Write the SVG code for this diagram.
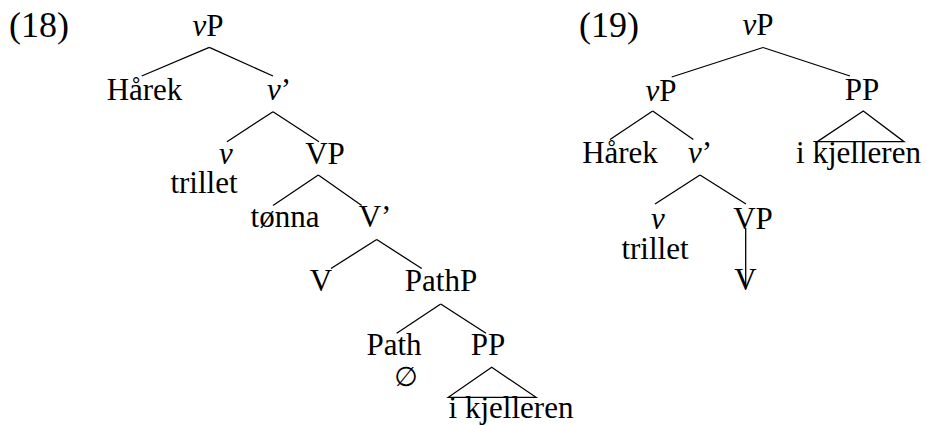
<svg xmlns="http://www.w3.org/2000/svg" width="927" height="425" viewBox="0 0 927 425">
<style>
text{font-family:"Liberation Serif","Times New Roman",serif;font-size:31px;fill:#000;text-anchor:middle}
.ex{text-anchor:start;font-size:36px}
.it{font-style:italic}
.sym{font-family:"DejaVu Sans","Liberation Serif",sans-serif;font-size:27px}
line,polygon{stroke:#000;stroke-width:1.3;fill:none}
</style>
<rect width="927" height="425" fill="#fff"/>
<g id="ex18"><text class="ex" x="9" y="37">(18)</text></g>
<g id="t18-vP"><text x="208" y="36"><tspan class="it">v</tspan>P</text></g>
<g id="t18-harek"><text x="144.5" y="100">Hårek</text></g>
<g id="t18-vbar"><text x="279" y="100"><tspan class="it">v</tspan>’</text></g>
<g id="t18-v"><text class="it" x="226" y="164">v</text><text x="204" y="193">trillet</text></g>
<g id="t18-VP"><text x="325" y="164">VP</text></g>
<g id="t18-tonna"><text x="285" y="227">tønna</text></g>
<g id="t18-Vbar"><text x="375" y="227">V’</text></g>
<g id="t18-V"><text x="321" y="290.7">V</text></g>
<g id="t18-PathP"><text x="441" y="290.7">PathP</text></g>
<g id="t18-Path"><text x="394" y="355">Path</text><text class="sym" x="406" y="386">∅</text></g>
<g id="t18-PP"><text x="488" y="355">PP</text></g>
<g id="t18-ikj"><text x="511" y="418">i kjelleren</text></g>

<g id="ex19"><text class="ex" x="579" y="37">(19)</text></g>
<g id="t19-vP"><text x="758" y="35"><tspan class="it">v</tspan>P</text></g>
<g id="t19-vP2"><text x="661" y="100.5"><tspan class="it">v</tspan>P</text></g>
<g id="t19-PP"><text x="862" y="100">PP</text></g>
<g id="t19-harek"><text x="620" y="163.3">Hårek</text></g>
<g id="t19-vbar"><text x="700" y="163.3"><tspan class="it">v</tspan>’</text></g>
<g id="t19-ikj"><text x="858.5" y="163.3">i kjelleren</text></g>
<g id="t19-v"><text class="it" x="658" y="229">v</text><text x="655" y="259">trillet</text></g>
<g id="t19-VP"><text x="753" y="229">VP</text></g>
<g id="t19-V"><text x="745.5" y="290">V</text></g>

<g id="connectors">
<line x1="209.3" y1="47.3" x2="141.7" y2="76"/>
<line x1="209.3" y1="47.3" x2="273" y2="76"/>
<line x1="273" y1="111.7" x2="227" y2="141.7"/>
<line x1="273" y1="111.7" x2="319" y2="141.7"/>
<line x1="318.3" y1="175" x2="273" y2="205.5"/>
<line x1="318.3" y1="175" x2="361.7" y2="205.5"/>
<line x1="376.7" y1="239.5" x2="331" y2="268.5"/>
<line x1="376.7" y1="239.5" x2="421.7" y2="268.5"/>
<line x1="440.7" y1="304" x2="396.7" y2="333.3"/>
<line x1="440.7" y1="304" x2="486" y2="333.3"/>
<polygon points="491.7,367.3 448.3,397.3 536,397.3"/>
<line x1="763" y1="47.5" x2="671.7" y2="77"/>
<line x1="763" y1="47.5" x2="850" y2="76"/>
<line x1="652.7" y1="111" x2="610" y2="139.5"/>
<line x1="652.7" y1="111" x2="693.3" y2="139.5"/>
<polygon points="863.3,111 817.3,141.7 904,141.7"/>
<line x1="700" y1="175" x2="655" y2="204"/>
<line x1="700" y1="175" x2="746" y2="204"/>
<line x1="745.7" y1="228" x2="745.7" y2="289"/>
</g>
</svg>
